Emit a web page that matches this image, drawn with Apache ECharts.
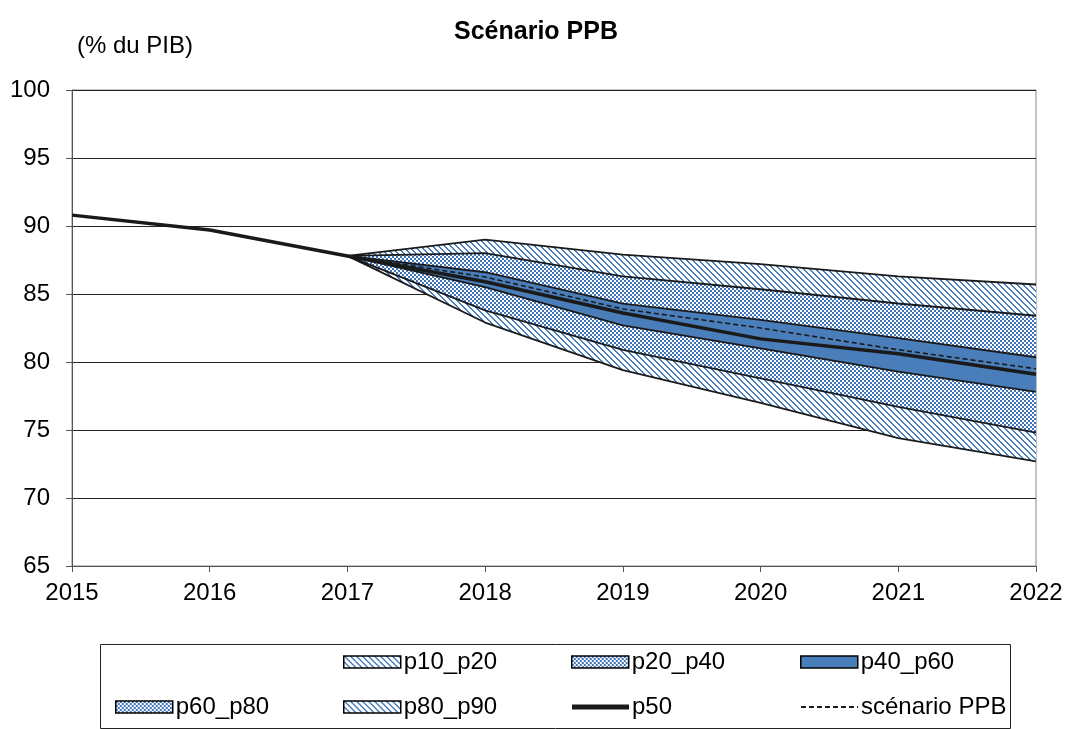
<!DOCTYPE html>
<html>
<head>
<meta charset="utf-8">
<script src="https://cdn.jsdelivr.net/npm/echarts@6/dist/echarts.min.js"></script>
<style>
  html, body { margin: 0; padding: 0; background: #fff; }
  #chart { width: 1072px; height: 729px; }
</style>
</head>
<body>
<div id="chart"></div>
<script>
// years and percentiles (% du PIB)
var years = ['2015', '2016', '2017', '2018', '2019', '2020', '2021', '2022'];
var p10 = ['-', '-', 87.8, 82.9, 79.4, 77.0, 74.4, 72.7];
var p20 = ['-', '-', 87.8, 83.8, 80.9, 78.8, 76.7, 74.8];
var p40 = ['-', '-', 87.8, 85.5, 82.7, 81.0, 79.3, 77.8];
var p60 = ['-', '-', 87.8, 86.6, 84.3, 83.1, 81.75, 80.35];
var p80 = ['-', '-', 87.8, 88.0, 86.3, 85.35, 84.3, 83.4];
var p90 = ['-', '-', 87.8, 89.0, 87.9, 87.2, 86.3, 85.7];
var p50 = [90.8, 89.7, 87.8, 85.9, 83.6, 81.7, 80.6, 79.1];
var ppb = ['-', '-', 87.8, 86.25, 83.9, 82.5, 80.9, 79.5];

var BLUE = '#4a7ebb';
var FONT = 'Liberation Sans';

// hatch pattern: dotted diagonal stripes, 2px blocks
function hatch() {
  var c = document.createElement('canvas');
  c.width = 6; c.height = 6;
  var g = c.getContext('2d');
  g.fillStyle = '#fff'; g.fillRect(0, 0, 6, 6);
  g.fillStyle = BLUE;
  for (var i = 0; i < 6; i++) {
    g.fillRect(i, i, 1, 1);
    g.fillRect((i + 1) % 6, i, 1, 1);
  }
  return { image: c, repeat: 'repeat' };
}
// checker pattern
function checker() {
  var c = document.createElement('canvas');
  c.width = 4; c.height = 4;
  var g = c.getContext('2d');
  g.fillStyle = '#fff'; g.fillRect(0, 0, 4, 4);
  g.fillStyle = '#3f74b8';
  g.fillRect(0, 0, 2, 2); g.fillRect(2, 2, 2, 2);
  return { image: c, repeat: 'repeat' };
}

function diff(a, b) {
  return a.map(function (v, i) { return v === '-' ? '-' : +(v - b[i]).toFixed(3); });
}

var fills = {
  p10_p20: hatch(), p20_p40: checker(), p40_p60: BLUE,
  p60_p80: checker(), p80_p90: hatch()
};
var bands = [
  ['p10_p20', diff(p20, p10)],
  ['p20_p40', diff(p40, p20)],
  ['p40_p60', diff(p60, p40)],
  ['p60_p80', diff(p80, p60)],
  ['p80_p90', diff(p90, p80)]
];

var series = [{
  name: 'base', type: 'line', stack: 'fan', data: p10, symbol: 'none',
  lineStyle: { color: '#1a1a1a', width: 1.8 }
}];
bands.forEach(function (b) {
  series.push({
    name: b[0], type: 'line', stack: 'fan', data: b[1], symbol: 'none',
    lineStyle: { color: '#1a1a1a', width: 1.8 },
    areaStyle: { color: fills[b[0]], opacity: 1 }
  });
});
series.push({
  name: 'p50', type: 'line', data: p50, symbol: 'none', z: 5,
  lineStyle: { color: '#1a1a1a', width: 3.5 }
});
series.push({
  name: 'scénario PPB', type: 'line', data: ppb, symbol: 'none', z: 6,
  lineStyle: { color: '#1a1a1a', width: 1.6, type: [5, 3] }
});

function leg(item, left, top, extra) {
  var l = {
    left: left, top: top, padding: 0, itemWidth: 57, itemHeight: 12,
    selectedMode: false,
    textStyle: { fontFamily: FONT, fontSize: 24, color: '#000', padding: [0, 0, 0, -2] },
    data: [item]
  };
  for (var k in extra) l[k] = extra[k];
  return l;
}
function patItem(name) {
  return { name: name, icon: 'rect', itemStyle: { color: fills[name], borderColor: '#000', borderWidth: 1.5 } };
}

var chart = echarts.init(document.getElementById('chart'));
chart.setOption({
  animation: false,
  backgroundColor: '#fff',
  title: {
    text: 'Scénario PPB', left: 'center', top: 15,
    textStyle: { fontFamily: FONT, fontSize: 25, fontWeight: 'bold', color: '#000' }
  },
  grid: { left: 72, right: 36, top: 90, bottom: 163, show: true, borderColor: '#888', borderWidth: 1 },
  xAxis: {
    type: 'category', data: years, boundaryGap: false,
    axisLine: { lineStyle: { color: '#555', width: 1 } },
    axisTick: { show: true, length: 6, lineStyle: { color: '#555' } },
    axisLabel: { fontFamily: FONT, fontSize: 24, color: '#000', margin: 15 },
    splitLine: { show: false }
  },
  yAxis: {
    type: 'value', min: 65, max: 100, interval: 5,
    axisLine: { show: true, lineStyle: { color: '#555', width: 1 } },
    axisTick: { show: true, length: 6, lineStyle: { color: '#555' } },
    axisLabel: { fontFamily: FONT, fontSize: 24, color: '#000', margin: 22 },
    splitLine: { lineStyle: { color: '#222', width: 1 } }
  },
  legend: [
    leg(patItem('p10_p20'), 343, 650),
    leg(patItem('p20_p40'), 571, 650),
    leg(patItem('p40_p60'), 800, 650),
    leg(patItem('p60_p80'), 115, 695),
    leg(patItem('p80_p90'), 343, 695),
    leg({ name: 'p50', icon: 'rect', itemStyle: { color: '#1a1a1a' } }, 572, 695, { itemHeight: 5 }),
    leg({ name: 'scénario PPB', itemStyle: { opacity: 0 } }, 800, 695)
  ],
  graphic: [
    {
      type: 'text', left: 77, top: 34,
      style: { text: '(% du PIB)', fontFamily: FONT, fontSize: 24, fill: '#000' }
    },
    {
      type: 'rect', shape: { x: 100.5, y: 644.5, width: 910, height: 84 },
      style: { fill: 'none', stroke: '#222', lineWidth: 1 }
    }
  ],
  series: series
});
</script>
</body>
</html>
